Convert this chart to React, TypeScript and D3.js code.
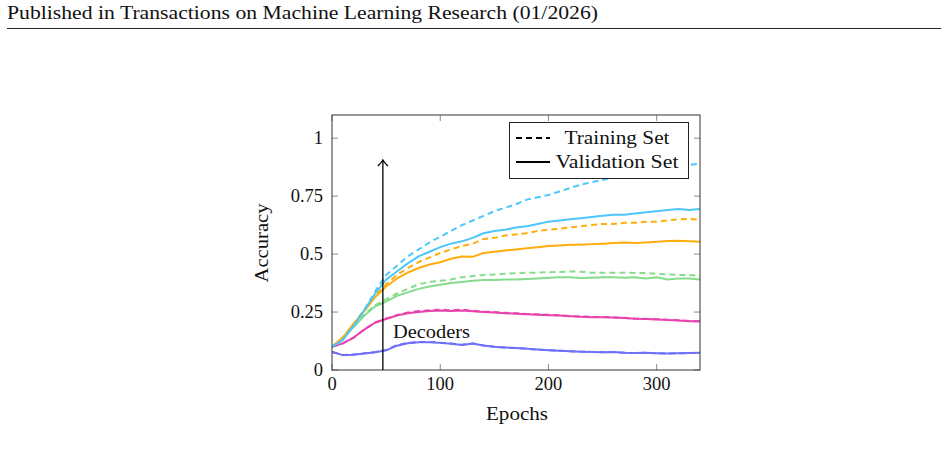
import React, { useRef, useEffect } from 'react';
import * as d3 from 'd3';

// Epochs sampled every 10
const epochs = d3.range(0, 341, 10);

// Accuracy per model, training and validation
const cyanTrain = [0.10, 0.13, 0.19, 0.26, 0.34, 0.41, 0.45, 0.49, 0.52, 0.55, 0.575, 0.60, 0.625, 0.645, 0.665, 0.685, 0.70, 0.715, 0.735, 0.745, 0.755, 0.77, 0.785, 0.80, 0.81, 0.82, 0.83, 0.84, 0.85, 0.86, 0.865, 0.875, 0.88, 0.885, 0.89];
const cyanVal = [0.10, 0.13, 0.19, 0.26, 0.33, 0.39, 0.425, 0.46, 0.49, 0.51, 0.53, 0.545, 0.555, 0.57, 0.59, 0.60, 0.605, 0.615, 0.62, 0.63, 0.64, 0.645, 0.65, 0.655, 0.66, 0.665, 0.67, 0.67, 0.675, 0.68, 0.685, 0.69, 0.695, 0.69, 0.695];
const orangeTrain = [0.10, 0.14, 0.20, 0.26, 0.32, 0.37, 0.41, 0.44, 0.465, 0.485, 0.505, 0.52, 0.535, 0.545, 0.565, 0.57, 0.58, 0.585, 0.59, 0.60, 0.605, 0.61, 0.615, 0.62, 0.625, 0.63, 0.63, 0.635, 0.635, 0.64, 0.64, 0.645, 0.65, 0.652, 0.648];
const orangeVal = [0.10, 0.14, 0.20, 0.255, 0.315, 0.36, 0.395, 0.42, 0.44, 0.455, 0.465, 0.48, 0.49, 0.488, 0.505, 0.51, 0.515, 0.52, 0.525, 0.53, 0.535, 0.537, 0.54, 0.54, 0.543, 0.545, 0.548, 0.55, 0.548, 0.55, 0.553, 0.556, 0.558, 0.555, 0.553];
const greenTrain = [0.10, 0.14, 0.19, 0.24, 0.28, 0.305, 0.33, 0.35, 0.37, 0.38, 0.385, 0.39, 0.40, 0.405, 0.41, 0.412, 0.415, 0.417, 0.42, 0.42, 0.422, 0.423, 0.425, 0.424, 0.42, 0.42, 0.42, 0.42, 0.418, 0.418, 0.415, 0.413, 0.41, 0.41, 0.406];
const greenVal = [0.10, 0.14, 0.185, 0.235, 0.275, 0.295, 0.32, 0.335, 0.35, 0.36, 0.368, 0.375, 0.38, 0.385, 0.388, 0.388, 0.39, 0.39, 0.393, 0.395, 0.398, 0.40, 0.40, 0.397, 0.398, 0.40, 0.40, 0.398, 0.40, 0.395, 0.40, 0.39, 0.395, 0.395, 0.39];
const pinkTrain = [0.10, 0.115, 0.14, 0.175, 0.205, 0.222, 0.237, 0.248, 0.254, 0.258, 0.26, 0.258, 0.26, 0.256, 0.252, 0.25, 0.247, 0.245, 0.242, 0.24, 0.238, 0.236, 0.233, 0.231, 0.229, 0.229, 0.227, 0.225, 0.222, 0.221, 0.219, 0.217, 0.215, 0.211, 0.21];
const pinkVal = [0.10, 0.115, 0.14, 0.175, 0.205, 0.22, 0.235, 0.245, 0.25, 0.255, 0.257, 0.255, 0.257, 0.253, 0.25, 0.248, 0.245, 0.243, 0.24, 0.238, 0.236, 0.235, 0.232, 0.23, 0.228, 0.228, 0.226, 0.224, 0.221, 0.22, 0.218, 0.216, 0.214, 0.21, 0.21];
const blueTrain = [0.078, 0.065, 0.067, 0.072, 0.078, 0.086, 0.107, 0.117, 0.121, 0.121, 0.118, 0.114, 0.109, 0.114, 0.106, 0.1, 0.097, 0.095, 0.092, 0.088, 0.085, 0.083, 0.081, 0.079, 0.078, 0.077, 0.078, 0.074, 0.073, 0.074, 0.072, 0.071, 0.072, 0.073, 0.074];
const blueVal = [0.078, 0.064, 0.066, 0.071, 0.077, 0.085, 0.105, 0.115, 0.12, 0.12, 0.117, 0.113, 0.108, 0.114, 0.106, 0.1, 0.097, 0.095, 0.092, 0.088, 0.085, 0.083, 0.081, 0.079, 0.078, 0.077, 0.078, 0.074, 0.073, 0.074, 0.072, 0.071, 0.072, 0.073, 0.074];

const series = [
  { color: '#4cc6fb', train: cyanTrain, val: cyanVal },
  { color: '#ffad0a', train: orangeTrain, val: orangeVal },
  { color: '#86dc8a', train: greenTrain, val: greenVal },
  { color: '#e843ad', train: pinkTrain, val: pinkVal },
  { color: '#6f6ffa', train: blueTrain, val: blueVal },
];

const xTicks = [0, 100, 200, 300];
const yTicks = [0, 0.25, 0.5, 0.75, 1];
const yTickLabels = ['0', '0.25', '0.5', '0.75', '1'];
const legendLabels = ['Training Set', 'Validation Set'];
const arrowEpoch = 47;

const FONT = "'Liberation Serif', 'DejaVu Serif', serif";

const AccuracyChart = ({ width = 948, height = 455 }) => {
  const ref = useRef<SVGSVGElement>(null);

  useEffect(() => {
    const svg = d3.select(ref.current);
    svg.selectAll('*').remove();
    svg.style('font-family', FONT);

    // page header
    svg.append('text')
      .attr('x', 7).attr('y', 19)
      .style('font-size', '18px')
      .attr('textLength', 591).attr('lengthAdjust', 'spacingAndGlyphs')
      .attr('fill', '#111')
      .text('Published in Transactions on Machine Learning Research (01/2026)');
    svg.append('line')
      .attr('x1', 7).attr('x2', 941).attr('y1', 28.5).attr('y2', 28.5)
      .attr('stroke', '#222').attr('stroke-width', 1);

    const left = 332, right = 700, top = 115, bottom = 370;

    const x = d3.scaleLinear().domain([0, 340]).range([left, right]);
    const y = d3.scaleLinear().domain([0, 1.1]).range([bottom, top]);

    const plot = svg.append('g');

    // inward ticks on all four sides
    const tickColor = '#888';
    xTicks.forEach(t => {
      plot.append('line').attr('x1', x(t)).attr('x2', x(t)).attr('y1', bottom).attr('y2', bottom - 6)
        .attr('stroke', tickColor);
      plot.append('line').attr('x1', x(t)).attr('x2', x(t)).attr('y1', top).attr('y2', top + 6)
        .attr('stroke', tickColor);
    });
    yTicks.forEach(t => {
      plot.append('line').attr('x1', left).attr('x2', left + 6).attr('y1', y(t)).attr('y2', y(t))
        .attr('stroke', tickColor);
      plot.append('line').attr('x1', right).attr('x2', right - 6).attr('y1', y(t)).attr('y2', y(t))
        .attr('stroke', tickColor);
    });

    // curves
    const line = d3.line<number>()
      .x((_, i) => x(epochs[i]))
      .y(d => y(d));

    const clip = svg.append('clipPath').attr('id', 'plot-clip');
    clip.append('rect').attr('x', left).attr('y', top).attr('width', right - left).attr('height', bottom - top);

    const curves = plot.append('g').attr('clip-path', 'url(#plot-clip)');
    [...series].reverse().forEach(s => {
      curves.append('path').attr('d', line(s.val))
        .attr('fill', 'none').attr('stroke', s.color).attr('stroke-width', 2)
        .attr('stroke-linejoin', 'round');
      curves.append('path').attr('d', line(s.train))
        .attr('fill', 'none').attr('stroke', s.color).attr('stroke-width', 2)
        .attr('stroke-dasharray', '6,4');
    });

    // frame
    plot.append('rect')
      .attr('x', left).attr('y', top).attr('width', right - left).attr('height', bottom - top)
      .attr('fill', 'none').attr('stroke', '#333').attr('stroke-width', 1);

    // tick labels
    xTicks.forEach(t => {
      plot.append('text').attr('x', x(t)).attr('y', 390)
        .attr('text-anchor', 'middle').style('font-size', '18.5px')
        .attr('fill', '#111').text(t);
    });
    yTicks.forEach((t, i) => {
      plot.append('text').attr('x', 323).attr('y', y(t) + 6)
        .attr('text-anchor', 'end').style('font-size', '18.5px')
        .attr('fill', '#111').text(yTickLabels[i]);
    });

    // axis titles
    plot.append('text').attr('x', 517).attr('y', 420)
      .attr('text-anchor', 'middle').style('font-size', '18px')
      .attr('textLength', 62).attr('lengthAdjust', 'spacingAndGlyphs')
      .attr('fill', '#111').text('Epochs');
    plot.append('text')
      .attr('transform', `translate(268, 243) rotate(-90)`)
      .attr('text-anchor', 'middle').style('font-size', '18px')
      .attr('textLength', 79).attr('lengthAdjust', 'spacingAndGlyphs')
      .attr('fill', '#111').text('Accuracy');

    // decoder marker
    const ax = x(arrowEpoch);
    plot.append('line').attr('x1', ax).attr('x2', ax).attr('y1', bottom).attr('y2', 160)
      .attr('stroke', '#000').attr('stroke-width', 1.3);
    plot.append('path')
      .attr('d', `M${ax - 5},${166} Q${ax - 1},${162} ${ax},${160} Q${ax + 1},${162} ${ax + 5},${166}`)
      .attr('fill', 'none').attr('stroke', '#000').attr('stroke-width', 1.3);
    plot.append('text').attr('x', 393).attr('y', 338)
      .style('font-size', '18px')
      .attr('textLength', 77).attr('lengthAdjust', 'spacingAndGlyphs')
      .attr('fill', '#111').text('Decoders');

    // legend
    const lg = plot.append('g');
    lg.append('rect').attr('x', 509.5).attr('y', 122.5).attr('width', 179).attr('height', 56)
      .attr('fill', '#fff').attr('stroke', '#222').attr('stroke-width', 1);
    [138, 162].forEach((ly, i) => {
      lg.append('line').attr('x1', 516).attr('x2', 550).attr('y1', ly).attr('y2', ly)
        .attr('stroke', '#000').attr('stroke-width', 2)
        .attr('stroke-dasharray', i === 0 ? '6,4' : null);
      lg.append('text').attr('x', 617).attr('y', ly + 6)
        .attr('text-anchor', 'middle').style('font-size', '18px')
        .attr('textLength', i === 0 ? 105 : 123).attr('lengthAdjust', 'spacingAndGlyphs')
        .attr('fill', '#111').text(legendLabels[i]);
    });
  }, [width, height]);

  return <svg ref={ref} width={width} height={height} style={{ position: 'absolute', left: 0, top: 0, background: '#fff' }} />;
};

export default function App() {
  return <AccuracyChart />;
}
